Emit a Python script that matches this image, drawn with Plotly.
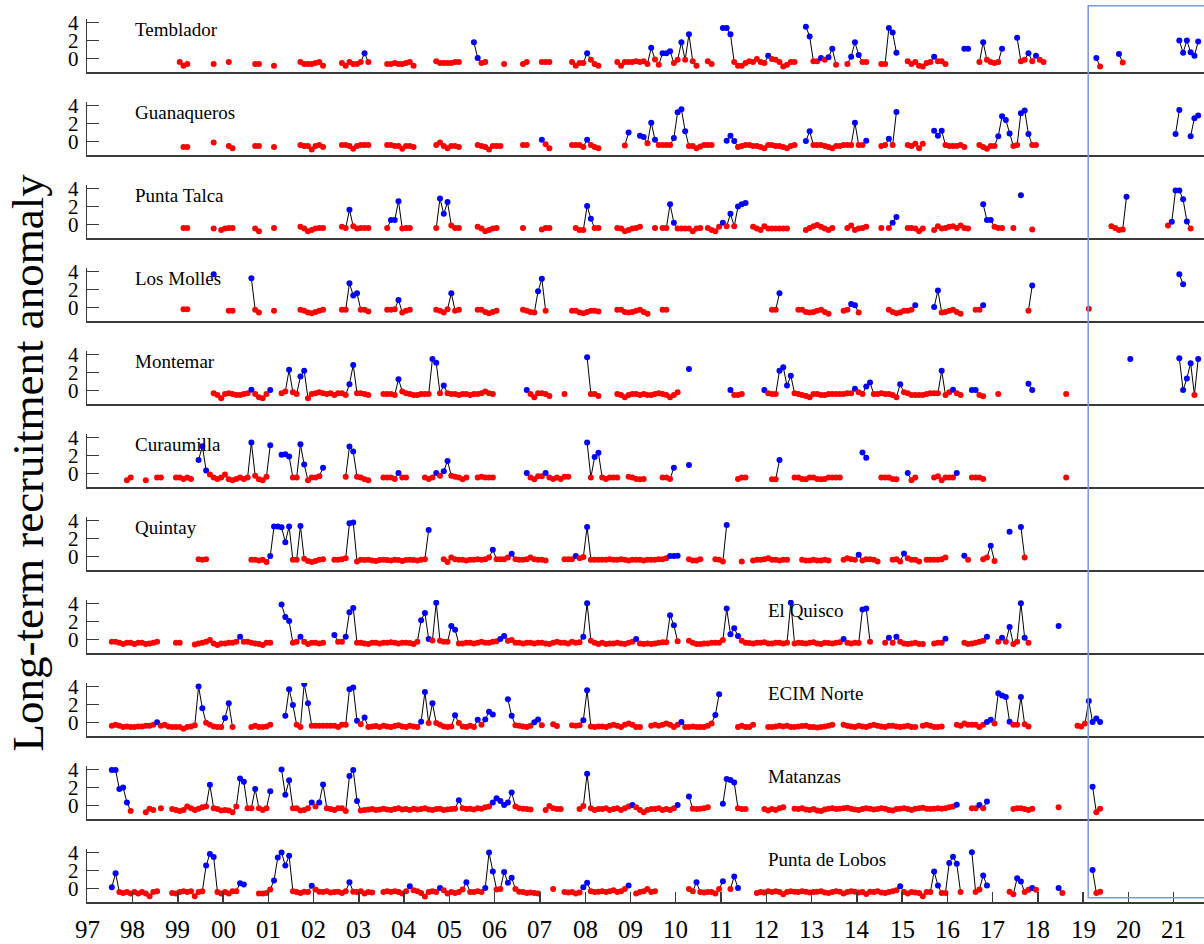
import plotly.graph_objects as go

# ---------------- data ----------------
# Each site: list of (start_month_index, values); month index 0 = Jan 1997.
SITES = ["Temblador", "Guanaqueros", "Punta Talca", "Los Molles", "Montemar",
         "Curaumilla", "Quintay", "El Quisco", "ECIM Norte", "Matanzas", "Punta de Lobos"]

TEMBLADOR = [
    (24, [-0.4, -0.8, -0.6]), (33, [-0.6]), (37, [-0.4]), (44, [-0.6, -0.6]), (49, [-0.8]),
    (56, [-0.4, -0.6, -0.6, -0.6, -0.5, -0.4, -0.8]),
    (67, [-0.5, -0.8, -0.4, -0.6, -0.6, -0.4, 0.6, -0.4]),
    (79, [-0.6, -0.6, -0.5, -0.6, -0.6, -0.5, -0.4, -0.8]),
    (92, [-0.3, -0.5, -0.5, -0.5, -0.5, -0.4, -0.4]),
    (102, [1.8, 0.05, -0.5, -0.4]), (110, [-0.6]), (115, [-0.6, -0.4]), (120, [-0.4, -0.4, -0.4]),
    (128, [-0.4, -0.8, -0.5, -0.5, 0.6, -0.15, -0.6, -0.8]),
    (140, [-0.4, -0.8, -0.4, -0.4, -0.4, -0.3, -0.4, -0.3, -0.6, 1.2, -0.1, -0.7, 0.6, 0.6, 0.8,
           -0.5, -0.15, 1.8, -0.15, 2.7, -0.3, -0.8]),
    (164, [-0.3, -0.6]),
    (168, [3.4, 3.4, 2.7, -0.4, -0.8, -0.8, -0.5, -0.3, -0.4, -0.05, -0.4, -0.5, 0.3, -0.05, -0.15,
           -0.4, -0.9, -0.7, -0.4, -0.4]),
    (190, [3.55, 2.45, -0.3, -0.3, 0.05, -0.15, 0.15, 1.1, -0.7]),
    (201, [-0.6, 0.2, 1.8, 0.4, -0.4, -0.4]),
    (210, [-0.6, -0.6, 3.4, 2.9, 0.65]),
    (217, [-0.3, -0.6, -0.4, -0.8, -0.9, -0.5, -0.4]),
    (224, [0.2, -0.3, -0.3, -0.6]), (232, [1.1, 1.1]),
    (236, [-0.4, 1.8, -0.15, -0.4, -0.5, -0.4, 1.1]),
    (246, [2.3, -0.3, -0.15, 0.6, -0.3, 0.3, -0.15, -0.4]),
    (267, [0.05, -0.9]), (273, [0.5, -0.45]),
    (289, [2.0, 0.65, 2.0, 0.7, 0.3, 1.9]),
]

GUANAQUEROS = [
    (25, [-0.6, -0.6]), (33, [-0.1]), (37, [-0.5, -0.75]), (44, [-0.5, -0.5]), (49, [-0.6]),
    (56, [-0.4, -0.5, -0.5, -0.9, -0.5, -0.4, -0.6]),
    (67, [-0.4, -0.4, -0.5, -0.8, -0.5, -0.4, -0.4, -0.4]),
    (79, [-0.4, -0.4, -0.5, -0.5, -0.8, -0.5, -0.5, -0.6]),
    (92, [-0.4, -0.1, -0.5, -0.75, -0.5, -0.5, -0.6]),
    (103, [-0.4, -0.5, -0.6, -0.9, -0.5, -0.5, -0.5]),
    (115, [-0.4, -0.4]), (120, [0.2, -0.3, -0.75]),
    (128, [-0.4, -0.4, -0.4, -0.6, 0.2, -0.4, -0.6, -0.75]),
    (142, [-0.45, 1.0]),
    (146, [0.65, 0.5, -0.2, 2.1, 0.2, -0.4, -0.4, -0.4, -0.4, 0.4, 3.25, 3.6, 1.15, -0.5, -0.5,
           -0.75, -0.55, -0.4, -0.4, -0.4]),
    (169, [0.1, 0.65, 0.05, -0.6, -0.5, -0.4, -0.4, -0.5, -0.5, -0.6, -0.75, -0.4, -0.4, -0.5,
           -0.5, -0.6, -0.75, -0.5, -0.4]),
    (190, [0.05, 1.15, -0.4, -0.4, -0.4, -0.5, -0.6, -0.75, -0.5, -0.5, -0.4, -0.4, -0.4, 2.1,
           -0.4, -0.4, 0.1]),
    (210, [-0.5, -0.4, 0.3, -0.4, 3.3]),
    (217, [-0.4, -0.5, -0.25, -0.75, -0.25]),
    (224, [1.2, 0.65, 1.2, -0.4, -0.5, -0.5, -0.5, -0.4, -0.6]),
    (236, [-0.4, -0.6, -0.8, -0.5, -0.5, 0.6, 2.8, 2.4, 0.9, -0.5, -0.4, 3.15, 3.45, 0.85, -0.4, -0.4]),
    (288, [0.85, 3.5]), (292, [0.6, 2.6, 2.9]),
]

PUNTA_TALCA = [
    (25, [-0.4, -0.4]), (33, [-0.45]), (35, [-0.6, -0.45, -0.4, -0.4]), (44, [-0.45, -0.75]),
    (49, [-0.4]),
    (56, [-0.25, -0.45, -0.75, -0.6, -0.45, -0.4, -0.4]),
    (67, [-0.25, -0.4, 1.65, -0.2, -0.45, -0.4, -0.4, -0.4]),
    (79, [-0.4, 0.5, 0.5, 2.6, -0.45, -0.4, -0.4]),
    (92, [-0.4, 2.9, 1.2, 2.5, -0.1, -0.4, -0.4]),
    (103, [-0.25, -0.45, -0.75, -0.6, -0.45, -0.4]),
    (115, [-0.4]), (120, [-0.55, -0.4, -0.4]),
    (129, [-0.4, -0.6, -0.6, 2.05, 0.65, -0.4, -0.4]),
    (140, [-0.4, -0.45, -0.75, -0.6, -0.45, -0.4, -0.25]),
    (150, [-0.4]),
    (152, [-0.4, -0.4, 2.25, 0.2, -0.45, -0.45, -0.45, -0.45, -0.75, -0.45, -0.4]),
    (164, [-0.4, -0.6, -0.75, -0.25, 0.2, -0.2, 1.2, -0.2, 2.0, 2.25, 2.4]),
    (176, [-0.25, -0.45, -0.6, -0.2, -0.45, -0.45, -0.45, -0.45, -0.45, -0.45]),
    (190, [-0.6, -0.4, -0.2, -0.05, -0.25, -0.45, -0.6, -0.4]),
    (201, [-0.4, -0.1, -0.6, -0.45, -0.4, -0.25]),
    (210, [-0.4]), (212, [-0.4, 0.2, 0.85]),
    (217, [-0.4, -0.4, -0.45, -0.75, -0.45]),
    (224, [-0.6, -0.2, -0.45, -0.4, -0.25, -0.2, -0.4, -0.1, -0.4, -0.45]),
    (237, [2.25, 0.5, 0.5, -0.25, -0.4, -0.4]),
    (245, [-0.4]), (247, [3.25]), (250, [-0.55]),
    (271, [-0.2, -0.4, -0.6, -0.55, 3.1]),
    (286, [-0.1, 0.3, 3.8, 3.8, 2.8, 0.35, -0.45]),
]

LOS_MOLLES = [
    (25, [-0.2, -0.2]), (33, [3.7]), (37, [-0.35, -0.35]), (43, [3.25, -0.25, -0.55]), (49, [-0.35]),
    (56, [-0.25, -0.35, -0.55, -0.65, -0.5, -0.35, -0.25]),
    (67, [-0.25, -0.25, 2.7, 1.35, 1.6, -0.25, -0.25, -0.45]),
    (79, [-0.25, -0.25, -0.2, 0.85, -0.55, -0.35, -0.25]),
    (92, [-0.25, -0.35, -0.55, -0.2, 1.6, -0.35, -0.25]),
    (103, [-0.25, -0.25, -0.5, -0.65, -0.5, -0.35]),
    (115, [-0.25, -0.35, -0.5, -0.55, 1.8, 3.2, -0.35]),
    (128, [-0.35, -0.35, -0.55, -0.65, -0.5, -0.35, -0.35, -0.45]),
    (140, [-0.25, -0.25, -0.5, -0.55, -0.5, -0.35, -0.25, -0.5, -0.7]),
    (152, [-0.25, -0.25]),
    (181, [-0.25, -0.25, 1.6]),
    (188, [-0.25, -0.25, -0.5, -0.55, -0.5, -0.35, -0.25, -0.5, -0.7]),
    (200, [-0.35, -0.25, 0.4, 0.25, -0.55]),
    (212, [-0.25, -0.5, -0.65, -0.55, -0.35, -0.35, -0.25, 0.25]),
    (224, [0.05, 1.9, -0.55, -0.5, -0.35, -0.25, -0.5, -0.7]),
    (235, [-0.25, -0.25, 0.25]),
    (249, [-0.35, 2.45]), (265, [-0.15]), (289, [3.7, 2.6]),
]

MONTEMAR = [
    (33, [-0.3, -0.5, -0.85, -0.4, -0.3, -0.4, -0.5, -0.5, -0.4, -0.3, 0.1, -0.4, -0.75, -0.85, -0.4, 0.05]),
    (51, [-0.3, -0.1, 2.3, -0.2, -0.4, 1.55, 2.2, -0.85, -0.4, -0.3, -0.2, -0.3, -0.4, -0.3, -0.5,
          -0.3, -0.3, -0.5, 0.7, 2.85, -0.3, -0.3, -0.4, -0.5]),
    (78, [-0.4, -0.4, -0.4, -0.5, 1.25, -0.1, -0.3, -0.4, -0.5, -0.5, -0.4, -0.4, -0.4, 3.5, 3.1,
          -0.3, 0.55, -0.3, -0.4, -0.4, -0.5, -0.4, -0.4, -0.5, -0.4, -0.4, -0.3, -0.1, -0.3, -0.4]),
    (116, [0.05, -0.4, -0.75, -0.3, -0.3, -0.4, -0.6]),
    (126, [-0.4]),
    (132, [3.7, -0.4, -0.4, -0.6]),
    (140, [-0.4, -0.5, -0.75, -0.5, -0.4, -0.4, -0.5, -0.4, -0.5, -0.5, -0.4, -0.3, -0.4, -0.5,
           -0.75, -0.5, -0.2]),
    (159, [2.4]),
    (170, [0.05, -0.5, -0.5, -0.4]),
    (179, [0.05, -0.3, -0.4, -0.4, 2.2, 2.6, 0.55, 1.65, -0.3, -0.4, -0.5, -0.6, -0.75, -0.4, -0.4,
           -0.5, -0.5, -0.4, -0.4, -0.4, -0.4, -0.4, -0.3, -0.3, 0.2, -0.2, -0.4, 0.45, 0.9, -0.4,
           -0.4, -0.3, -0.4, -0.4, -0.5, -0.75, 0.7, -0.2, -0.3, -0.5, -0.5, -0.5, -0.5, -0.4, -0.3,
           -0.3, -0.3, 2.2, -0.5, -0.2, 0.1, -0.3, -0.5]),
    (234, [0.05, 0.05, -0.5, -0.65]),
    (241, [-0.4]), (249, [0.75, 0.05]), (259, [-0.4]), (276, [3.5]),
    (289, [3.6, 0.05, 1.35, 3.05, -0.5, 3.5]),
]

CURAUMILLA = [
    (10, [-0.75, -0.45]), (15, [-0.75]), (18, [-0.45, -0.45]), (23, [-0.45, -0.45, -0.6, -0.45, -0.6]),
    (29, [1.5, 3.05, 0.35, -0.1, -0.45, -0.6, -0.45, -0.1, -0.65, -0.75, -0.6, -0.45, -0.6, -0.45,
          3.45, -0.25, -0.65, -0.75, -0.35, 3.15]),
    (51, [2.1, 2.15, 1.9, -0.45, -0.45, 3.25, 1.0, -0.75, -0.45, -0.45, -0.3, 0.65]),
    (68, [-0.35, 3.0, 2.45, -0.35, -0.45, -0.65, -0.75]),
    (78, [-0.45, -0.45, -0.45, -0.6, 0.05, -0.45, -0.45]),
    (89, [-0.45, -0.6, -0.45, 0.05, -0.25, 0.25, 1.4, -0.25, -0.35, -0.45, -0.65, -0.45]),
    (103, [-0.45, -0.35, -0.45, -0.45, -0.45]),
    (116, [0.05, -0.45, -0.65, -0.3, -0.3, 0.05, -0.45, -0.6, -0.45, -0.6, -0.35, -0.35]),
    (132, [3.45, -0.45, 1.85, 2.3, -0.45, -0.6, -0.45, -0.45, -0.45]),
    (143, [-0.35, -0.45, -0.6, -0.65, -0.6]),
    (152, [-0.45, -0.45, -0.6, 0.65]),
    (159, [0.95]),
    (172, [-0.6, -0.45, -0.45]),
    (181, [-0.65, -0.65, 1.5]),
    (187, [-0.45, -0.45, -0.6, -0.65, -0.45, -0.45, -0.6, -0.65, -0.6, -0.45, -0.45, -0.45, -0.45]),
    (205, [2.35, 1.75]),
    (210, [-0.45, -0.45, -0.45, -0.6, -0.65]),
    (217, [0.05, -0.75, -0.45]),
    (224, [-0.45, -0.3, -0.75, -0.45, -0.45, -0.45, 0.05]),
    (234, [-0.45, -0.45, -0.45, -0.6]),
    (259, [-0.45]),
]

QUINTAY = [
    (29, [-0.3, -0.35, -0.3]),
    (43, [-0.35, -0.35, -0.45, -0.35, -0.6, 0.05, 3.35, 3.35, 3.25, 1.6, 3.35, -0.35, -0.35, 3.4,
          -0.25, -0.5, -0.6, -0.5, -0.35, -0.3]),
    (65, [-0.35, -0.35, -0.3, -0.2, 3.7, 3.8, -0.55, -0.35, -0.4, -0.35, -0.45, -0.5, -0.4, -0.35,
          -0.4, -0.45, -0.35, -0.4, -0.5, -0.4, -0.35, -0.4, -0.45, -0.35, -0.3, 2.95]),
    (94, [-0.3, -0.6, -0.1, -0.3, -0.35, -0.35, -0.45, -0.35, -0.35, -0.3, -0.35, -0.3, -0.1, 0.75,
          -0.3, -0.3, -0.3, -0.1, 0.3, -0.3, -0.35, -0.35, -0.3, -0.1, -0.3, -0.35, -0.35, -0.45]),
    (126, [-0.3, -0.3, -0.3, 0.05, -0.2, -0.05, 3.3, -0.35, -0.35, -0.35,
           -0.35, -0.35, -0.3, -0.35, -0.35, -0.3, -0.35, -0.45, -0.35, -0.35, -0.35, -0.45,
           -0.35, -0.35, -0.35, -0.3, -0.3, -0.2, 0.07, 0.07, 0.1]),
    (159, [-0.3, -0.45, -0.45, -0.3]),
    (166, [-0.3, -0.35, -0.55, 3.5]),
    (173, [-0.55]),
    (176, [-0.45, -0.35, -0.35, -0.3, -0.2, -0.35, -0.35, -0.45, -0.35, -0.35]),
    (189, [-0.35, -0.45, -0.45, -0.35, -0.45, -0.45, -0.35, -0.45]),
    (200, [-0.35, -0.2, -0.3, -0.35, 0.2, -0.45, -0.3, -0.3, -0.35, -0.55]),
    (213, [-0.35, -0.3, -0.55, 0.35, -0.2, -0.35, -0.35, -0.55]),
    (222, [-0.35, -0.35, -0.35, -0.35, -0.3, -0.1]),
    (232, [0.1, -0.35]),
    (237, [-0.3, -0.1, 1.2, -0.5]),
    (244, [2.75]),
    (247, [3.3, -0.1]),
]

EL_QUISCO = [
    (6, [-0.25, -0.25, -0.35, -0.5, -0.35, -0.35, -0.5, -0.35, -0.35, -0.5, -0.45, -0.35, -0.25]),
    (23, [-0.35, -0.35]),
    (28, [-0.55, -0.45, -0.35, -0.25, -0.05, -0.45, -0.6, -0.45, -0.45, -0.35, -0.35, -0.25, 0.3,
          -0.25, -0.25, -0.35, -0.45, -0.5, -0.6, -0.35, -0.35]),
    (51, [3.9, 2.5, 2.05, -0.35, -0.25, 0.3, -0.25, -0.5, -0.35, -0.35, -0.45, -0.35]),
    (65, [0.5, -0.25, -0.25, 0.3, 3.05, 3.5, -0.35, -0.35, -0.45, -0.5, -0.35, -0.35, -0.45, -0.35,
          -0.35, -0.3, -0.35, -0.45, -0.35, -0.35, -0.4, -0.5, -0.25,
          2.15, 2.95, 0.05, -0.1, 4.1, -0.15, -0.25, -0.25, 1.5, 1.1,
          -0.45, -0.45, -0.35, -0.35, -0.45, -0.35, -0.25, -0.35, -0.35, -0.25, -0.2,
          0.05, 0.4,
          -0.15, -0.05, -0.35, -0.35, -0.45, -0.35, -0.35, -0.45, -0.35, -0.35, -0.45, -0.5, -0.35,
          -0.25, -0.35, -0.35, -0.45, -0.25, -0.35, -0.3,
          0.3, 4.05, -0.15, -0.35, -0.5,
          -0.35, -0.5, -0.45, -0.45, -0.35, -0.45, -0.5, -0.35, -0.25, 0.05, -0.45, -0.5, -0.45,
          -0.5, -0.45, -0.35, -0.3, -0.3, 2.7, 1.6, -0.2]),
    (159, [-0.15, -0.35, -0.5, -0.5, -0.45, -0.45, -0.35, -0.35, -0.35, -0.05,
           3.45, 0.6, 1.25, 0.4,
           -0.15, -0.35, -0.4, -0.45, -0.35, -0.35, -0.3, -0.45, -0.45, -0.35, -0.35, -0.45, -0.35,
           4.1,
           -0.45, -0.35, -0.4, -0.45, -0.35, -0.3, -0.45, -0.5, -0.35, -0.4, -0.45, -0.35, -0.3,
           0.05, -0.35, -0.45, -0.35, -0.4, 3.35, 3.45, -0.25]),
    (211, [-0.35, 0.2, -0.35, 0.3, -0.25, -0.45, -0.5, -0.45, -0.35, -0.5, -0.5]),
    (224, [-0.45, -0.35, -0.35, 0.1]),
    (232, [-0.35, -0.5, -0.45, -0.35, -0.25, -0.15, 0.3]),
    (241, [-0.25, 0.2, -0.25, 1.4, -0.5, -0.25, 4.05, 0.2, -0.35]),
    (257, [1.5]),
]

ECIM_NORTE = [
    (6, [-0.35, -0.25, -0.35, -0.5, -0.45, -0.5, -0.5, -0.45, -0.45, -0.35, -0.35, -0.25, 0.02,
         -0.35, -0.25, -0.45, -0.5, -0.5, -0.5, -0.7, -0.5, -0.45, -0.3, 4.0, 1.6, -0.02, -0.25,
         -0.45, -0.5, -0.5, 0.5, 2.15, -0.5]),
    (43, [-0.5, -0.35, -0.5, -0.5, -0.45, -0.25]),
    (52, [0.75, 3.7, 1.95, -0.25, -0.5, 4.3, 2.15,
          -0.35, -0.35, -0.35, -0.35, -0.35, -0.35, -0.35, -0.5, -0.25, -0.25,
          3.7, 3.9, 0.2, -0.2, 0.55,
          -0.5, -0.45, -0.4, -0.5, -0.35, -0.45, -0.5, -0.4, -0.3, -0.45, -0.5, -0.35, -0.45, -0.5,
          0.1, 3.4, -0.05, 2.15, -0.05, -0.25, -0.45, -0.5, -0.45, 0.8, -0.05, -0.45, -0.5, -0.35,
          -0.5, 0.3, -0.25, 0.35, 1.2, 0.9]),
    (111, [2.6, 0.75, -0.3, -0.35, -0.45, -0.5, -0.35, 0.02, 0.35, -0.3]),
    (123, [-0.2, -0.4]),
    (128, [-0.3, -0.35, -0.3, 0.25, 3.6, -0.45, -0.5, -0.45,
           -0.45, -0.5, -0.35, -0.25, -0.35, -0.5, -0.25, -0.1, -0.25, -0.5, -0.5]),
    (149, [-0.35, -0.25, -0.35, -0.25, -0.1, -0.25, -0.5, -0.25, 0.05, -0.5, -0.5, -0.45, -0.5,
           -0.5, -0.5, -0.35, -0.1, 0.85, 3.15]),
    (172, [-0.5, -0.35, -0.5, -0.5, -0.25]),
    (180, [-0.5, -0.5, -0.45, -0.35, -0.45, -0.35, -0.5, -0.5, -0.45, -0.4, -0.35, -0.5, -0.5,
           -0.55, -0.5, -0.45, -0.35, -0.25]),
    (200, [-0.25, -0.35, -0.45, -0.5, -0.35, -0.45, -0.5, -0.35, -0.25, -0.35, -0.45, -0.5, -0.35,
           -0.35, -0.45, -0.5, -0.45, -0.35, -0.5, -0.5]),
    (221, [-0.35, -0.25, -0.35, -0.5, -0.5, -0.45]),
    (230, [-0.25, -0.35, -0.1, -0.25, -0.25, -0.25, -0.5, -0.25, 0.05, 0.3, -0.1, 3.25, 3.0, 2.85,
           0.1, -0.25, -0.25, 2.85, -0.2, -0.45]),
    (262, [-0.35, -0.45, -0.1, 2.4, 0.05, 0.45, 0.05]),
]

MATANZAS = [
    (6, [3.95, 3.95, 1.85, 2.0, 0.35, -0.6]),
    (15, [-0.75, -0.35, -0.5]), (19, [-0.3]),
    (22, [-0.4, -0.5, -0.6, -0.5, -0.1, -0.3, -0.5, -0.35, -0.2, -0.1, 2.3, -0.3, -0.4, -0.55, -0.5,
          -0.55, -0.75, -0.1, 3.0, 2.65, -0.3, -0.3, 1.85, -0.3, -0.5, -0.3, 1.6]),
    (51, [4.0, 1.2, 2.8, -0.3, -0.3, -0.55, -0.5, -0.3, 0.35, -0.1, 0.35, 2.35, -0.3, -0.4, -0.5,
          -0.3, -0.3, -0.6, 3.3, 3.95, 0.5,
          -0.55, -0.5, -0.45, -0.4, -0.5, -0.45, -0.35, -0.45, -0.5, -0.4, -0.3, -0.45, -0.4, -0.5,
          -0.35, -0.45, -0.4, -0.3, -0.45, -0.5, -0.4, -0.35, -0.5, -0.45, -0.4, -0.35,
          0.6,
          -0.3, -0.4, -0.35, -0.45, -0.3, -0.35, -0.2, -0.1,
          0.35, 0.8, 0.5, 0.05, 0.35, 1.45, -0.1,
          -0.3, -0.35, -0.4, -0.45]),
    (121, [-0.5, -0.05, -0.3, -0.4, -0.4]),
    (130, [-0.4, -0.05, 3.55, -0.3, -0.5, -0.4,
           -0.4, -0.3, -0.5, -0.4, -0.3, -0.5, -0.3, -0.1, 0.05, -0.2, -0.5, -0.75, -0.5, -0.4,
           -0.4, -0.3, -0.5, -0.4, -0.5, -0.3, 0.05]),
    (159, [1.0, -0.35, -0.4, -0.35, -0.3, -0.2]),
    (168, [0.2, 2.95, 2.85, 2.55, -0.3, -0.4, -0.4]),
    (179, [-0.4, -0.55, -0.4, -0.5, -0.3, -0.2]),
    (187, [-0.35, -0.4, -0.3, -0.45, -0.5, -0.4, -0.55, -0.6, -0.45, -0.35,
           -0.3, -0.4, -0.35, -0.3, -0.25, -0.35, -0.45, -0.5, -0.4, -0.3,
           -0.35, -0.45, -0.4, -0.3, -0.35, -0.5, -0.55, -0.4, -0.35, -0.3,
           -0.4, -0.5, -0.35, -0.3, -0.25, -0.35, -0.4, -0.35, -0.3, -0.35,
           -0.3, -0.2, -0.1, 0.1]),
    (234, [-0.3, -0.3, 0.05, -0.3, 0.45]),
    (245, [-0.4, -0.3, -0.3, -0.4, -0.5, -0.35]),
    (257, [-0.2]),
    (266, [2.1, -0.75, -0.35]),
]

PUNTA_DE_LOBOS = [
    (6, [0.15, 1.7, -0.4, -0.5, -0.4, -0.55, -0.4, -0.55, -0.4, -0.55, -0.85, -0.4, -0.3]),
    (22, [-0.5, -0.55, -0.4, -0.3, -0.4, -0.3, -0.85, -0.4, -0.3, 2.55, 3.85, 3.5, -0.4, -0.55,
          -0.4, -0.55, -0.3, -0.3, 0.6, 0.45]),
    (45, [-0.55, -0.55, -0.5, -0.1, 0.9, 3.45, 4.0, 2.55, 3.65, -0.3, -0.4, -0.5, -0.35, -0.4, 0.3,
          -0.1, -0.35, -0.4, -0.3, -0.45, -0.4, -0.35, -0.5, -0.3, 0.7, -0.35, -0.4, -0.3, -0.55,
          -0.4, -0.45]),
    (78, [-0.4, -0.3, -0.4, -0.3, -0.4, -0.55, -0.3, 0.25, -0.2, -0.3, -0.5, -0.9, -0.4, -0.3,
          -0.4, 0.05, -0.2, -0.55, -0.4, -0.5, -0.4, -0.1, 0.7, -0.4, -0.4, -0.3, -0.4, 0.05, 4.0,
          1.9, -0.1, -0.05, 1.85, 0.65, 1.2, -0.05, -0.35, -0.4, -0.5, -0.45, -0.5, -0.55]),
    (123, [-0.05]),
    (126, [-0.4, -0.45, -0.4, -0.55, -0.45, 0.15, 0.65, -0.3, -0.4, -0.35,
           -0.3, -0.4, -0.3, -0.2, -0.4, -0.3, -0.05, 0.35]),
    (145, [-0.55, -0.4, -0.3, -0.05, -0.4, -0.3]),
    (159, [-0.05, -0.3, 0.7, -0.4, -0.45, -0.4, -0.4, -0.55, -0.05, 0.8]),
    (170, [-0.05, 1.35, 0.05]),
    (177, [-0.5, -0.4, -0.45, -0.3, -0.4, -0.3, -0.4, -0.65, -0.4, -0.3,
           -0.35, -0.4, -0.3, -0.35, -0.45, -0.4, -0.35, -0.3, -0.45, -0.5,
           -0.4, -0.3, -0.35, -0.55, -0.4, -0.3, -0.35, -0.45, -0.4, -0.6,
           -0.35, -0.4, -0.3, -0.45, -0.5, -0.4, -0.3, -0.2,
           0.25,
           -0.4, -0.55, -0.4, -0.45, -0.5, -0.85, -0.4, -0.4,
           1.9, 0.35, -0.5, -0.5, 2.85, 3.55, 2.75, -0.4]),
    (234, [4.05, -0.4, -0.1, 1.45, 0.35]),
    (244, [-0.37, -0.63, 1.15, 0.78, -0.4, -0.15, 0.05, -0.15]),
    (257, [0.05, -0.5]),
    (266, [2.05, -0.5, -0.35]),
]

SERIES = [TEMBLADOR, GUANAQUEROS, PUNTA_TALCA, LOS_MOLLES, MONTEMAR, CURAUMILLA,
          QUINTAY, EL_QUISCO, ECIM_NORTE, MATANZAS, PUNTA_DE_LOBOS]
LABEL_X = [1998.0] * 7 + [2012.0] * 4
YEAR_TICKS = list(range(1997, 2022))
YEAR_LABELS = ["%02d" % (y % 100) for y in YEAR_TICKS]
Y_LABEL = "Long-term recruitment anomaly"

# ---------------- layout constants ----------------
W, H = 1204, 944
X_LEFT_PX = 87.3
X_RANGE = [1997.0, 2021.67]
Y_RANGE = [-1.5, 4.4]
FONT = "Liberation Serif, Times New Roman, serif"
AXC = "#3a3a3a"


def expand(segments):
    vals = {}
    for start, seq in segments:
        for j, v in enumerate(seq):
            vals[start + j] = v
    xs, ys, cs = [], [], []
    for k in range(0, 300):
        xs.append(1997 + (k + 0.5) / 12)
        v = vals.get(k)
        ys.append(v)
        cs.append("#0000ff" if (v is not None and v > 0) else "#ff0000")
    return xs, ys, cs


fig = go.Figure()
layout = dict(
    width=W, height=H, margin=dict(l=0, r=0, t=0, b=0, pad=0),
    paper_bgcolor="white", plot_bgcolor="white", showlegend=False,
    template="none", font=dict(family=FONT, color="black"),
)
annotations = []
n_panels = len(SITES)
for i, (name, seg) in enumerate(zip(SITES, SERIES)):
    xs, ys, cs = expand(seg)
    n = i + 1
    xa = "x" if n == 1 else "x%d" % n
    ya = "y" if n == 1 else "y%d" % n
    fig.add_trace(go.Scatter(
        x=xs, y=ys, mode="lines+markers", connectgaps=False,
        line=dict(color="black", width=1),
        marker=dict(color=cs, size=6, line=dict(width=0)),
        xaxis=xa, yaxis=ya, hoverinfo="skip"))
    bottom = 72 + 83 * i
    top = bottom - 53
    last = (i == n_panels - 1)
    layout["xaxis" if n == 1 else "xaxis%d" % n] = dict(
        domain=[X_LEFT_PX / W, 1.0], range=X_RANGE, anchor=ya,
        showline=True, linecolor=AXC, linewidth=1.6, showgrid=False, zeroline=False,
        ticks="inside" if last else "", ticklen=10, tickwidth=1.4, tickcolor=AXC,
        tickvals=YEAR_TICKS, showticklabels=False, automargin=False,
    )
    layout["yaxis" if n == 1 else "yaxis%d" % n] = dict(
        domain=[1 - bottom / H, 1 - top / H], range=Y_RANGE, anchor=xa,
        showline=True, linecolor=AXC, linewidth=1.6, showgrid=False, zeroline=False,
        ticks="inside", ticklen=12, tickwidth=1.4, tickcolor=AXC,
        tickvals=[0, 2, 4], ticktext=["0", "2", "4"], ticklabelstandoff=3,
        tickfont=dict(family=FONT, size=21, color="black"), automargin=False,
    )
    annotations.append(dict(
        x=LABEL_X[i], y=3.2, xref=xa, yref=ya, text=name, showarrow=False,
        xanchor="left", yanchor="middle", font=dict(family=FONT, size=19, color="black")))

# year labels under the bottom panel
last_x = "x%d" % n_panels
for yv, lab in zip(YEAR_TICKS, YEAR_LABELS):
    annotations.append(dict(
        x=yv, y=1 - 929 / H, xref=last_x, yref="paper", text=lab, showarrow=False,
        xanchor="center", yanchor="middle", font=dict(family=FONT, size=25, color="black")))

annotations.append(dict(
    x=28 / W, y=1 - 462.5 / H, xref="paper", yref="paper", text=Y_LABEL, showarrow=False,
    textangle=-90, xanchor="center", yanchor="middle",
    font=dict(family=FONT, size=45, color="black")))
layout["annotations"] = annotations
layout["shapes"] = [dict(
    type="rect", xref="paper", yref="paper",
    x0=1088.2 / W, x1=1.2, y0=1 - 897.7 / H, y1=1 - 5.7 / H,
    line=dict(color="#7b9bd1", width=1.5), fillcolor="rgba(0,0,0,0)", layer="above")]

fig.update_layout(**layout)
fig.write_html("out.html", config={"displayModeBar": False, "staticPlot": True},
               post_script="document.body.style.margin='0px';")
